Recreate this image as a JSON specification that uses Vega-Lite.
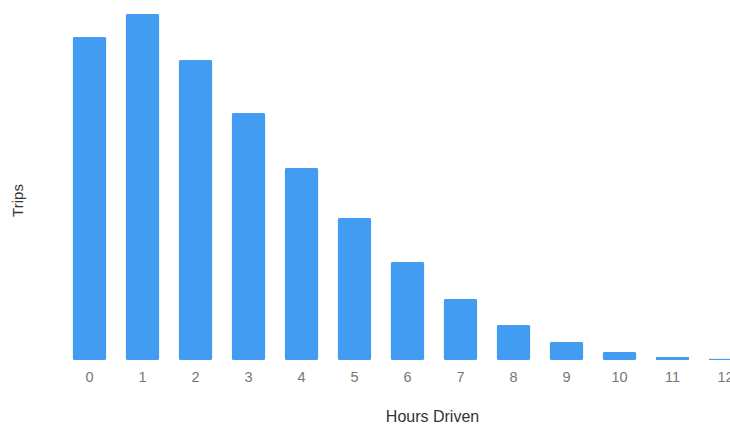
{
  "$schema": "https://vega.github.io/schema/vega-lite/v6.json",
  "autosize": "none",
  "width": 689,
  "height": 350,
  "padding": {"left": 63, "top": 10, "right": 0, "bottom": 66},
  "background": "white",
  "config": {"view": {"stroke": null}, "font": "Liberation Sans"},
  "data": {"values": [
    {"hours": 0, "trips": 323},
    {"hours": 1, "trips": 346},
    {"hours": 2, "trips": 300},
    {"hours": 3, "trips": 247},
    {"hours": 4, "trips": 192},
    {"hours": 5, "trips": 142},
    {"hours": 6, "trips": 98},
    {"hours": 7, "trips": 61},
    {"hours": 8, "trips": 35},
    {"hours": 9, "trips": 18},
    {"hours": 10, "trips": 8},
    {"hours": 11, "trips": 3},
    {"hours": 12, "trips": 1.5}
  ]},
  "mark": {"type": "bar", "color": "#429cf2", "cornerRadius": 2},
  "encoding": {
    "x": {
      "field": "hours", "type": "ordinal", "title": "Hours Driven",
      "scale": {"paddingInner": 0.36, "paddingOuter": 0.18},
      "axis": {"labelAngle": 0, "domain": false, "ticks": false, "labelPadding": 10,
               "labelFontSize": 14.5, "labelColor": "#777777", "titleFontSize": 16,
               "titleFontWeight": "normal", "titleColor": "#333333", "titlePadding": 25,
               "titleX": 369}
    },
    "y": {
      "field": "trips", "type": "quantitative", "title": "Trips",
      "scale": {"domain": [0, 350]},
      "axis": {"domain": false, "ticks": false, "labels": false, "grid": false,
               "titleFontSize": 15, "titleFontWeight": "normal", "titleColor": "#333333",
               "titleX": -38, "titleY": 190}
    }
  }
}
